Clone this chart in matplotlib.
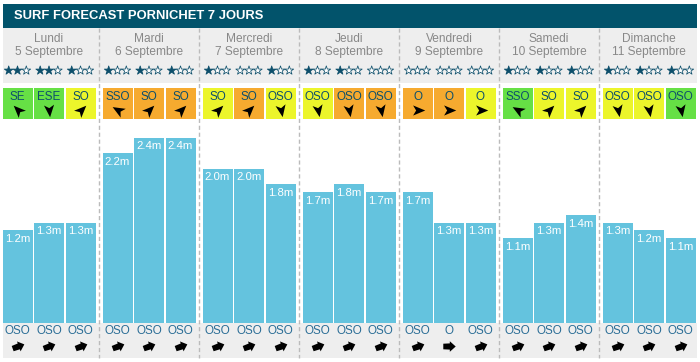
import matplotlib
matplotlib.use("Agg")
import matplotlib.pyplot as plt
from matplotlib.path import Path
from matplotlib.markers import MarkerStyle
from matplotlib.transforms import Affine2D

# ---------------- data ----------------
title = "SURF FORECAST PORNICHET 7 JOURS"
days = ["Lundi", "Mardi", "Mercredi", "Jeudi", "Vendredi", "Samedi", "Dimanche"]
dates = ["5 Septembre", "6 Septembre", "7 Septembre", "8 Septembre",
         "9 Septembre", "10 Septembre", "11 Septembre"]
wave_heights = [
    [1.2, 1.3, 1.3],
    [2.2, 2.4, 2.4],
    [2.0, 2.0, 1.8],
    [1.7, 1.8, 1.7],
    [1.7, 1.3, 1.3],
    [1.1, 1.3, 1.4],
    [1.3, 1.2, 1.1],
]
stars = [
    [2, 2, 1],
    [1, 1, 1],
    [1, 0, 1],
    [1, 1, 0],
    [0, 0, 0],
    [1, 1, 1],
    [1, 1, 1],
]
wind_dirs = [
    ["SE", "ESE", "SO"],
    ["SSO", "SO", "SO"],
    ["SO", "SO", "OSO"],
    ["OSO", "OSO", "OSO"],
    ["O", "O", "O"],
    ["SSO", "SO", "SO"],
    ["OSO", "OSO", "OSO"],
]
wind_quality = [  # g = green, y = yellow, o = orange
    ["g", "g", "y"],
    ["o", "o", "o"],
    ["y", "o", "y"],
    ["y", "o", "o"],
    ["o", "o", "y"],
    ["g", "y", "y"],
    ["y", "y", "g"],
]
swell_dirs = [
    ["OSO", "OSO", "OSO"],
    ["OSO", "OSO", "OSO"],
    ["OSO", "OSO", "OSO"],
    ["OSO", "OSO", "OSO"],
    ["OSO", "O", "OSO"],
    ["OSO", "OSO", "OSO"],
    ["OSO", "OSO", "OSO"],
]

# ---------------- style ----------------
W, H = 700, 362
TEAL = "#02536b"
GRAY_BG = "#eeeeee"
BAR = "#64c3de"
TXT_TEAL = "#0d4f6b"
SWELL_TXT = "#2a6d96"
QCOL = {"g": "#66e045", "y": "#ecf52b", "o": "#f6aa2f"}
wind_angle = {"SE": 135, "ESE": -85, "SO": 45, "SSO": 150, "O": 0, "OSO": -80}
swell_angle = {"OSO": 20, "O": 0}
FONT = ["Liberation Sans", "DejaVu Sans"]

DAY_W = 100
CELL_STEP = 31.5
CELL_W = 30
X0 = 17.5  # centre of first cell
STAR_STEP = 8.8


def cell_x(d, k):
    return X0 + d * DAY_W + k * CELL_STEP


fig = plt.figure(figsize=(W / 100, H / 100), dpi=100)
ax = fig.add_axes([0, 0, 1, 1])
ax.set_xlim(0, W)
ax.set_ylim(H, 0)
ax.axis("off")

# title bar
ax.add_patch(plt.Rectangle((3, 4), 694, 23.5, color=TEAL, lw=0))
ax.text(14, 16, title, color="white", fontsize=9.4, fontweight="bold",
        family=FONT, va="center", ha="left")

# header & bottom gray bands
ax.add_patch(plt.Rectangle((3, 28), 694, 55, color=GRAY_BG, lw=0))
ax.add_patch(plt.Rectangle((3, 323), 694, 34.5, color=GRAY_BG, lw=0))

# separators
for d in range(1, len(days)):
    xs = d * DAY_W - 1.5
    ax.plot([xs, xs], [28, 358], color="#bbbbbb", lw=1, ls=(0, (3, 2)), zorder=1)

# navigation arrow shape (wind)
nav = Path([(1, 0), (-0.8, 0.75), (-0.35, 0), (-0.8, -0.75), (1, 0)],
           [Path.MOVETO, Path.LINETO, Path.LINETO, Path.LINETO, Path.CLOSEPOLY])
# block arrow (swell)
blk = Path([(-1, -0.45), (0.05, -0.5), (0.05, -0.85), (1, 0), (0.05, 0.85),
            (0.05, 0.5), (-1, 0.45), (-1, -0.45)],
           [Path.MOVETO] + [Path.LINETO] * 6 + [Path.CLOSEPOLY])

for d in range(len(days)):
    cx_day = d * DAY_W + 49
    ax.text(cx_day, 39.5, days[d], color="#888888", fontsize=8.6, family=FONT,
            ha="center", va="center")
    ax.text(cx_day, 51.5, dates[d], color="#888888", fontsize=8.6, family=FONT,
            ha="center", va="center")
    for k in range(3):
        cx = cell_x(d, k)
        n = stars[d][k]
        sx = [cx + (j - 1) * STAR_STEP for j in range(3)]
        faces = [TXT_TEAL if j < n else "white" for j in range(3)]
        ax.scatter(sx, [70.5] * 3, marker="*", s=44, c=faces,
                   edgecolors=TXT_TEAL, linewidths=0.55, zorder=3)
        # wind box
        ax.add_patch(plt.Rectangle((cx - CELL_W / 2, 88), CELL_W, 31,
                                   color=QCOL[wind_quality[d][k]], lw=0))
        ax.text(cx, 96.5, wind_dirs[d][k], color=TXT_TEAL, fontsize=8.4,
                family=FONT, ha="center", va="center")
        m = MarkerStyle(nav, transform=Affine2D().rotate_deg(wind_angle[wind_dirs[d][k]]))
        ax.scatter([cx], [110], marker=m, s=95, color="black", lw=0, zorder=3)
        # swell
        ax.text(cx, 331, swell_dirs[d][k], color=SWELL_TXT, fontsize=8.4,
                family=FONT, ha="center", va="center")
        m2 = MarkerStyle(blk, transform=Affine2D().rotate_deg(swell_angle[swell_dirs[d][k]]))
        ax.scatter([cx], [345.5], marker=m2, s=80, color="black", lw=0, zorder=3)

# bars in their own axes (metres)
PX_PER_M = 77.2
top_px, bot_px = 125, 323
bax = fig.add_axes([0, (H - bot_px) / H, 1, (bot_px - top_px) / H])
bax.set_xlim(0, W)
bax.set_ylim(0, (bot_px - top_px) / PX_PER_M)
bax.axis("off")
bax.patch.set_alpha(0)
for d in range(len(days)):
    xs = [cell_x(d, k) for k in range(3)]
    hs = wave_heights[d]
    bax.bar(xs, hs, width=CELL_W, color=BAR, lw=0)
    for x, h in zip(xs, hs):
        bax.annotate(f"{h:.1f}m", (x, h), xytext=(0, -6.3), textcoords="offset points",
                     color="white", fontsize=8.2, family=FONT, ha="center", va="center")

fig.savefig("out.png", dpi=100)
